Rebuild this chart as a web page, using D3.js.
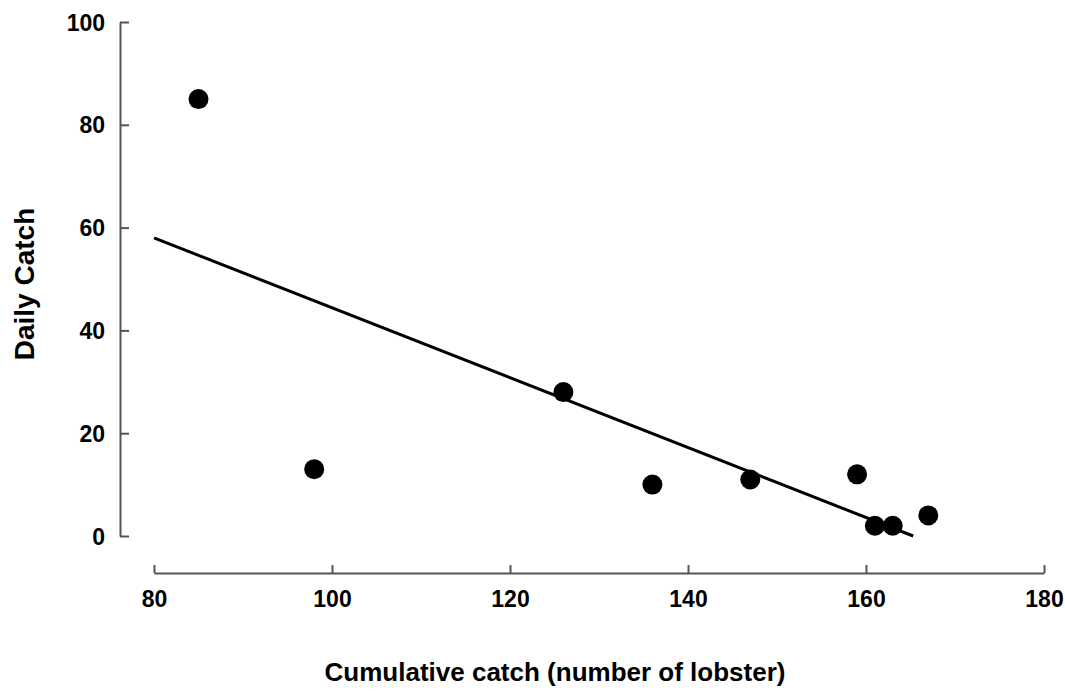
<!DOCTYPE html>
<html>
<head>
<meta charset="utf-8">
<script src="https://cdn.jsdelivr.net/npm/d3@7"></script>
<style>
  html, body { margin: 0; padding: 0; background: #fff; }
  svg { display: block; font-family: "Liberation Sans", Arial, sans-serif; }
</style>
</head>
<body>
<svg id="chart" width="1065" height="691"></svg>
<script>
// Data
const cumulativeCatch = [85, 98, 126, 136, 147, 159, 161, 163, 167];
const dailyCatch = [85, 13, 28, 10, 11, 12, 2, 2, 4];
const fitLineX = [80, 165.3];
const fitLineY = [58, 0];
const xTicks = [80, 100, 120, 140, 160, 180];
const yTicks = [0, 20, 40, 60, 80, 100];
const xLabel = "Cumulative catch (number of lobster)";
const yLabel = "Daily Catch";

const svg = d3.select("#chart");
const x = d3.scaleLinear().domain([80, 180]).range([154, 1044]);
const y = d3.scaleLinear().domain([0, 100]).range([536, 22]);

const axisColor = "#555";

// Y axis (detached, ticks pointing inward)
const yAxisX = 120;
const gy = svg.append("g").attr("transform", `translate(${yAxisX},0)`)
  .call(d3.axisRight(y).tickValues(yTicks).tickSize(9).tickSizeOuter(0).tickFormat(d3.format("d")));
gy.select(".domain").attr("stroke", axisColor).attr("stroke-width", 2);
gy.selectAll(".tick line").attr("stroke", axisColor).attr("stroke-width", 2);
gy.selectAll(".tick text")
  .attr("x", -15).attr("dy", "0.35em")
  .attr("text-anchor", "end")
  .attr("font-size", 23).attr("font-weight", "bold").attr("fill", "#000");

// X axis (detached, ticks pointing up)
const xAxisY = 573;
const gx = svg.append("g").attr("transform", `translate(0,${xAxisY})`)
  .call(d3.axisTop(x).tickValues(xTicks).tickSize(8).tickSizeOuter(0).tickFormat(d3.format("d")));
gx.select(".domain").attr("stroke", axisColor).attr("stroke-width", 2);
gx.selectAll(".tick line").attr("stroke", axisColor).attr("stroke-width", 2);
gx.selectAll(".tick text")
  .attr("y", 34).attr("dy", 0)
  .attr("text-anchor", "middle")
  .attr("font-size", 23).attr("font-weight", "bold").attr("fill", "#000");

// Regression line
const fitData = fitLineX.map((d, i) => [d, fitLineY[i]]);
svg.append("path")
  .datum(fitData)
  .attr("d", d3.line().x(d => x(d[0])).y(d => y(d[1])))
  .attr("fill", "none").attr("stroke", "#000").attr("stroke-width", 3);

// Points
svg.append("g").selectAll("circle")
  .data(cumulativeCatch.map((d, i) => [d, dailyCatch[i]]))
  .join("circle")
  .attr("cx", d => x(d[0])).attr("cy", d => y(d[1]))
  .attr("r", 10).attr("fill", "#000");

// Axis titles
svg.append("text")
  .attr("x", 555).attr("y", 681)
  .attr("text-anchor", "middle")
  .attr("font-size", 26).attr("font-weight", "bold").attr("fill", "#000")
  .text(xLabel);

svg.append("text")
  .attr("transform", "translate(34,284) rotate(-90)")
  .attr("text-anchor", "middle")
  .attr("font-size", 28).attr("font-weight", "bold").attr("fill", "#000")
  .text(yLabel);
</script>
</body>
</html>
